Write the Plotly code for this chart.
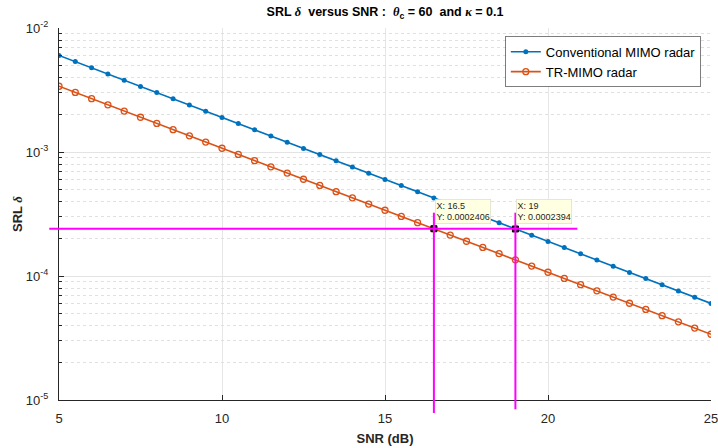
import math
import plotly.graph_objects as go

snr = [5 + 0.5 * i for i in range(41)]
conv = [6.010e-3, 5.357e-3, 4.774e-3, 4.255e-3, 3.792e-3, 3.380e-3, 3.012e-3, 2.685e-3,
        2.393e-3, 2.133e-3, 1.901e-3, 1.694e-3, 1.510e-3, 1.346e-3, 1.199e-3, 1.069e-3,
        9.526e-4, 8.490e-4, 7.567e-4, 6.744e-4, 6.010e-4, 5.357e-4, 4.774e-4, 4.255e-4,
        3.792e-4, 3.380e-4, 3.012e-4, 2.685e-4, 2.394e-4, 2.133e-4, 1.901e-4, 1.694e-4,
        1.510e-4, 1.346e-4, 1.199e-4, 1.069e-4, 9.526e-5, 8.490e-5, 7.567e-5, 6.744e-5,
        6.010e-5]
tr = [3.390e-3, 3.021e-3, 2.693e-3, 2.400e-3, 2.139e-3, 1.906e-3, 1.699e-3, 1.514e-3,
      1.350e-3, 1.203e-3, 1.072e-3, 9.555e-4, 8.516e-4, 7.590e-4, 6.764e-4, 6.028e-4,
      5.373e-4, 4.788e-4, 4.268e-4, 3.804e-4, 3.390e-4, 3.021e-4, 2.693e-4, 2.406e-4,
      2.139e-4, 1.906e-4, 1.699e-4, 1.514e-4, 1.350e-4, 1.203e-4, 1.072e-4, 9.555e-5,
      8.516e-5, 7.590e-5, 6.764e-5, 6.028e-5, 5.373e-5, 4.788e-5, 4.268e-5, 3.804e-5,
      3.390e-5]

tips_x = [16.5, 19]
tips_y = [0.0002406, 0.0002394]
hline_y = 2.40e-4
hline_x = [4.7, 20.9]
vline_top = 3.24e-4
vline_bottom = [-0.035, -0.025]  # paper units below axis

x_range = [5, 25]
x_ticks = [5, 10, 15, 20, 25]
y_range_log = [-5, -2]
ytick_vals = [1e-5, 1e-4, 1e-3, 1e-2]
ytick_text = ["10<sup>-5</sup>", "10<sup>-4</sup>", "10<sup>-3</sup>", "10<sup>-2</sup>"]
yminor_vals = [m * d for d in [1e-5, 1e-4, 1e-3] for m in range(2, 10)]


def xp(v):
    return (v - x_range[0]) / (x_range[1] - x_range[0])


def yp(v):
    return (math.log10(v) - y_range_log[0]) / (y_range_log[1] - y_range_log[0])


FONT = "Liberation Sans, Arial, sans-serif"
TXT = "#262626"
G = "<span style=\"font-family:Liberation Serif\"><i>{}</i></span>"
SP = "&nbsp; "

fig = go.Figure()
fig.add_trace(go.Scatter(
    x=snr, y=conv, mode="lines+markers", name="Conventional MIMO radar",
    line=dict(color="#0072BD", width=1.6),
    marker=dict(symbol="circle", size=5, color="#0072BD"),
))
fig.add_trace(go.Scatter(
    x=snr, y=tr, mode="lines+markers", name="TR-MIMO radar",
    line=dict(color="#D95319", width=1.6),
    marker=dict(symbol="circle-open", size=6, color="#D95319", line=dict(width=1.3)),
))
# invisible helper trace on the minor-grid axis
fig.add_trace(go.Scatter(x=[snr[0]], y=[conv[0]], yaxis="y2", mode="markers",
                         marker=dict(opacity=0), showlegend=False, hoverinfo="skip"))

shapes = []
shapes.append(dict(type="line", xref="paper", yref="paper",
                   x0=xp(hline_x[0]), x1=xp(hline_x[1]), y0=yp(hline_y), y1=yp(hline_y),
                   line=dict(color="#FF00FF", width=2), layer="above"))
for tx, yb in zip(tips_x, vline_bottom):
    shapes.append(dict(type="line", xref="paper", yref="paper",
                       x0=xp(tx), x1=xp(tx), y0=yb, y1=yp(vline_top),
                       line=dict(color="#FF00FF", width=2), layer="above"))

fig.add_trace(go.Scatter(
    x=tips_x, y=tips_y, mode="markers", showlegend=False, hoverinfo="skip",
    marker=dict(symbol="square", size=6, color="#222222", line=dict(color="#000000", width=1)),
    cliponaxis=False,
))

annotations = []
for tx, ty in zip(tips_x, tips_y):
    annotations.append(dict(
        x=tx, y=math.log10(ty), xref="x", yref="y",
        text=f"X: {tx:g}<br>Y: {ty:.7f}",
        showarrow=False, xanchor="left", yanchor="bottom", align="left",
        xshift=1, yshift=5,
        font=dict(family=FONT, size=9, color=TXT),
        bgcolor="#FFFFE1", bordercolor="#D8D8C8", borderwidth=0.6, borderpad=1,
    ))

title_text = (f"<b>SRL {G.format('δ')}{SP}versus SNR :{SP}{G.format('θ')}<sub>c</sub> = 60{SP}and "
              f"{G.format('κ')} = 0.1</b>")

fig.update_layout(
    width=718, height=448,
    margin=dict(l=59, r=7, t=28, b=48),
    paper_bgcolor="white", plot_bgcolor="white",
    font=dict(family=FONT, size=12, color=TXT),
    title=dict(
        text=title_text,
        x=0.5, xref="paper", xanchor="center", y=0.973, yanchor="middle",
        font=dict(family=FONT, size=12.5, color="#000000"),
    ),
    xaxis=dict(
        range=x_range, tickvals=x_ticks,
        showgrid=True, gridcolor="#E6E6E6", gridwidth=1,
        showline=True, linecolor="#262626", linewidth=1, mirror=False,
        ticks="inside", ticklen=5, tickcolor="#262626",
        zeroline=False, automargin=False, ticklabeloverflow="allow",
        ticklabelstandoff=6,
        title=dict(text="<b>SNR (dB)</b>", font=dict(size=13, color=TXT), standoff=9),
        tickfont=dict(size=13, color=TXT),
    ),
    yaxis=dict(
        type="log", range=y_range_log,
        tickvals=ytick_vals, ticktext=ytick_text,
        showgrid=True, gridcolor="#E3E3E3", gridwidth=1,
        showline=True, linecolor="#262626", linewidth=1, mirror=False,
        ticks="inside", ticklen=5, tickcolor="#262626",
        zeroline=False, automargin=False, ticklabelstandoff=7,
        title=dict(text=f"<b>SRL {G.format('δ')}</b>",
                   font=dict(size=13, color=TXT), standoff=0),
        tickfont=dict(size=13, color=TXT),
    ),
    yaxis2=dict(
        type="log", range=y_range_log, overlaying="y", side="left",
        tickvals=yminor_vals, showticklabels=False,
        showgrid=True, gridcolor="#E0E0E0", griddash="dot", gridwidth=1,
        ticks="inside", ticklen=3, tickcolor="#262626",
        showline=False, zeroline=False, automargin=False,
    ),
    legend=dict(
        x=0.985, y=0.978, xanchor="right", yanchor="top",
        bgcolor="white", bordercolor="#262626", borderwidth=0.6,
        font=dict(family=FONT, size=13, color="#000000"),
        tracegroupgap=0, itemwidth=30,
    ),
    shapes=shapes,
    annotations=annotations,
)

fig.write_html("out.html", config={"displayModeBar": False},
               post_script="document.body.style.margin='0';")
